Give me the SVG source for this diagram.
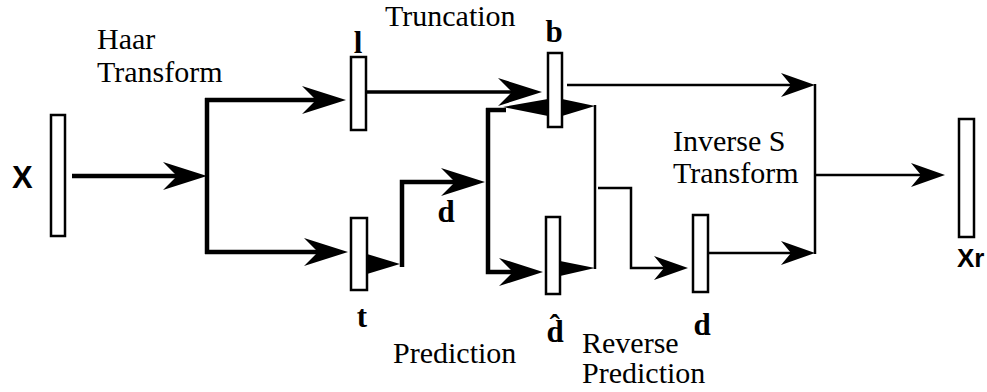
<svg xmlns="http://www.w3.org/2000/svg" width="987" height="392" viewBox="0 0 987 392">
<style>
.bar{fill:#fff;stroke:#000;stroke-width:2.5}
.serif{font-family:'Liberation Serif','Tinos','DejaVu Serif',serif;font-size:30px;font-weight:normal;fill:#000}
.bold{font-family:'Liberation Serif','Tinos','DejaVu Serif',serif;font-size:31px;font-weight:bold;fill:#000}
.sans{font-family:'Liberation Sans',Arial,sans-serif;font-weight:bold;fill:#000}
.thick{fill:none;stroke:#000;stroke-width:4.5}
.med{fill:none;stroke:#000;stroke-width:3.5}
.thin{fill:none;stroke:#000;stroke-width:2.5}
.tri{fill:#000;stroke:none}
</style>
<defs>
<marker id="big" markerUnits="userSpaceOnUse" viewBox="-26 -16 48 32" refX="0" refY="0" markerWidth="48" markerHeight="32" orient="auto">
<path d="M20,0 L-24,-14 L-10,0 L-24,14 Z" fill="#000"/>
</marker>
<marker id="small" markerUnits="userSpaceOnUse" viewBox="-16 -14 38 28" refX="0" refY="0" markerWidth="38" markerHeight="28" orient="auto">
<path d="M20,0 L-14,-12 L-4,0 L-14,12 Z" fill="#000"/>
</marker>
</defs>
<rect width="987" height="392" fill="#fff"/>

<g id="connectors">
<path class="thick" d="M72,176 H187" marker-end="url(#big)"/>
<path class="thick" d="M207,98 V254"/>
<path class="thick" d="M205,100 H326" marker-end="url(#big)"/>
<path class="thick" d="M205,252 H328" marker-end="url(#big)"/>
<path class="med" d="M366,92 H522" marker-end="url(#big)"/>
<polygon class="tri" points="367,254 400,264 367,274"/>
<path class="thick" d="M402,267 V182 H465" marker-end="url(#big)"/>
<path class="thick" d="M488,108 V272 H523" marker-end="url(#big)"/>
<path class="thick" d="M486,110 H506"/>
<polygon class="tri" points="548,99 503,107 548,116"/>
<polygon class="tri" points="562,99 595,106 562,116"/>
<path class="thin" d="M595,105 V269"/>
<polygon class="tri" points="560,261 595,268 560,276"/>
<path class="thin" d="M598,188 H631 V268 H668" marker-end="url(#small)"/>
<path class="thin" d="M567,85 H795" marker-end="url(#small)"/>
<path class="thin" d="M708,253 H795" marker-end="url(#small)"/>
<path class="thin" d="M815,84 V254"/>
<path class="thin" d="M815,175 H925" marker-end="url(#small)"/>
</g>

<g id="node-x">
<rect class="bar" x="51" y="115" width="14" height="121"/>
<text class="sans" x="12" y="188" font-size="31">X</text>
</g>
<g id="label-haar">
<text class="serif" x="97" y="49">Haar</text>
<text class="serif" x="97" y="82">Transform</text>
</g>
<g id="node-l">
<rect class="bar" x="351" y="57" width="15" height="73"/>
<text class="bold" x="358" y="53" text-anchor="middle" font-size="33">l</text>
</g>
<g id="node-t">
<rect class="bar" x="351" y="218" width="16" height="72"/>
<text class="bold" x="362" y="327" text-anchor="middle">t</text>
</g>
<g id="label-d1">
<text class="bold" x="446" y="222" text-anchor="middle">d</text>
</g>
<g id="label-truncation">
<text class="serif" x="385" y="26">Truncation</text>
</g>
<g id="node-b">
<rect class="bar" x="548" y="53" width="14" height="74"/>
<text class="bold" x="554" y="42" text-anchor="middle" font-size="33">b</text>
</g>
<g id="node-dhat">
<rect class="bar" x="546" y="217" width="14" height="77"/>
<text class="bold" x="555" y="342" text-anchor="middle">d̂</text>
</g>
<g id="label-prediction">
<text class="serif" x="393" y="363">Prediction</text>
</g>
<g id="label-reverse">
<text class="serif" x="582" y="353">Reverse</text>
<text class="serif" x="582" y="383">Prediction</text>
</g>
<g id="node-d">
<rect class="bar" x="693" y="215" width="15" height="77"/>
<text class="bold" x="702" y="335" text-anchor="middle">d</text>
</g>
<g id="label-inverse">
<text class="serif" x="673" y="151">Inverse S</text>
<text class="serif" x="673" y="183">Transform</text>
</g>
<g id="node-xr">
<rect class="bar" x="959" y="119" width="15" height="118"/>
<text class="sans" x="957" y="267" font-size="26">Xr</text>
</g>
</svg>
